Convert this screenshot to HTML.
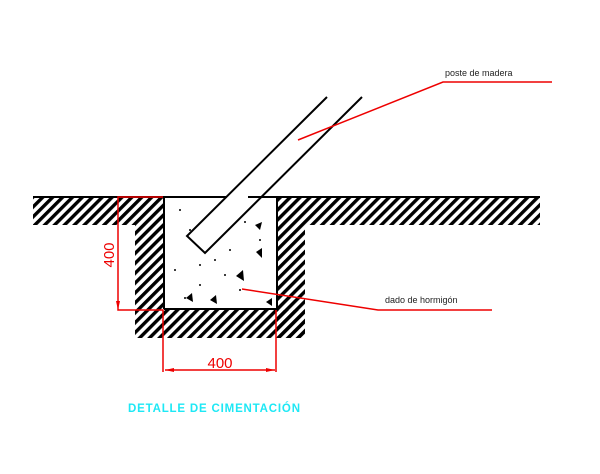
<!DOCTYPE html>
<html><head><style>html,body{margin:0;padding:0;background:#fff}svg{display:block}</style></head><body>
<svg width="600" height="474" viewBox="0 0 600 474" xmlns="http://www.w3.org/2000/svg">
<defs>
<pattern id="h" width="7" height="7" patternUnits="userSpaceOnUse" patternTransform="rotate(45)">
<rect x="0" y="0" width="3.4" height="7" fill="#000"/>
</pattern>
</defs>
<g fill="url(#h)">
<rect x="33" y="198" width="130" height="27"/>
<rect x="135" y="225" width="28" height="113"/>
<rect x="163" y="310" width="142" height="28"/>
<rect x="277" y="198" width="263" height="27"/>
<rect x="277" y="225" width="28" height="113"/>
</g>
<rect x="165" y="198" width="111" height="111" fill="#fff"/>
<g stroke="#000" stroke-width="2" fill="none">
<line x1="33" y1="197" x2="227" y2="197"/>
<line x1="248" y1="197" x2="540" y2="197"/>
<line x1="164" y1="197" x2="164" y2="309"/>
<line x1="164" y1="309" x2="277" y2="309"/>
<line x1="277" y1="197" x2="277" y2="309"/>
<polyline points="327,97 187,236 205,253 362,97"/>
</g>
<g fill="#000">
<circle cx="180" cy="210" r="1"/><circle cx="190" cy="230" r="1"/><circle cx="245" cy="222" r="1"/>
<circle cx="175" cy="270" r="1"/><circle cx="200" cy="265" r="1"/><circle cx="215" cy="260" r="1"/>
<circle cx="230" cy="250" r="1"/><circle cx="240" cy="290" r="1"/><circle cx="200" cy="285" r="1"/>
<circle cx="260" cy="240" r="1"/><circle cx="225" cy="275" r="1"/><circle cx="185" cy="298" r="1"/>
<polygon points="255,225 262,222 260,230"/><polygon points="256,252 262,248 262,258"/>
<polygon points="236,276 243,270 244,281"/><polygon points="186,298 192,293 193,302"/>
<polygon points="210,300 216,295 217,304"/><polygon points="266,302 272,298 272,306"/>
</g>
<g stroke="#e00" stroke-width="1.5" fill="none">
<polyline points="163,197 118,197 118,310 163,310 163,372"/>
<line x1="276" y1="310" x2="276" y2="372"/>
<line x1="165" y1="370" x2="275" y2="370"/>
<polyline points="298,140 443,82 552,82"/>
<polyline points="242,289 378,310 492,310"/>
</g>
<g fill="#e00">
<polygon points="165,370 174,368 174,372"/><polygon points="275,370 266,368 266,372"/>
<polygon points="118,310 116,301 120,301"/>
</g>
<text x="220" y="368" font-family="Liberation Sans, sans-serif" font-size="15" fill="#e00" text-anchor="middle">400</text>
<text transform="translate(114,255) rotate(-90)" font-family="Liberation Sans, sans-serif" font-size="15" fill="#e00" text-anchor="middle">400</text>
<text x="445" y="76" font-family="Liberation Sans, sans-serif" font-size="9" fill="#222">poste de madera</text>
<text x="385" y="303" font-family="Liberation Sans, sans-serif" font-size="9" fill="#222">dado de hormigón</text>
<text x="128" y="412" font-family="Liberation Sans, sans-serif" font-size="11.5" font-weight="bold" fill="#1ee8f5" textLength="172">DETALLE DE CIMENTACIÓN</text>
</svg>
</body></html>
